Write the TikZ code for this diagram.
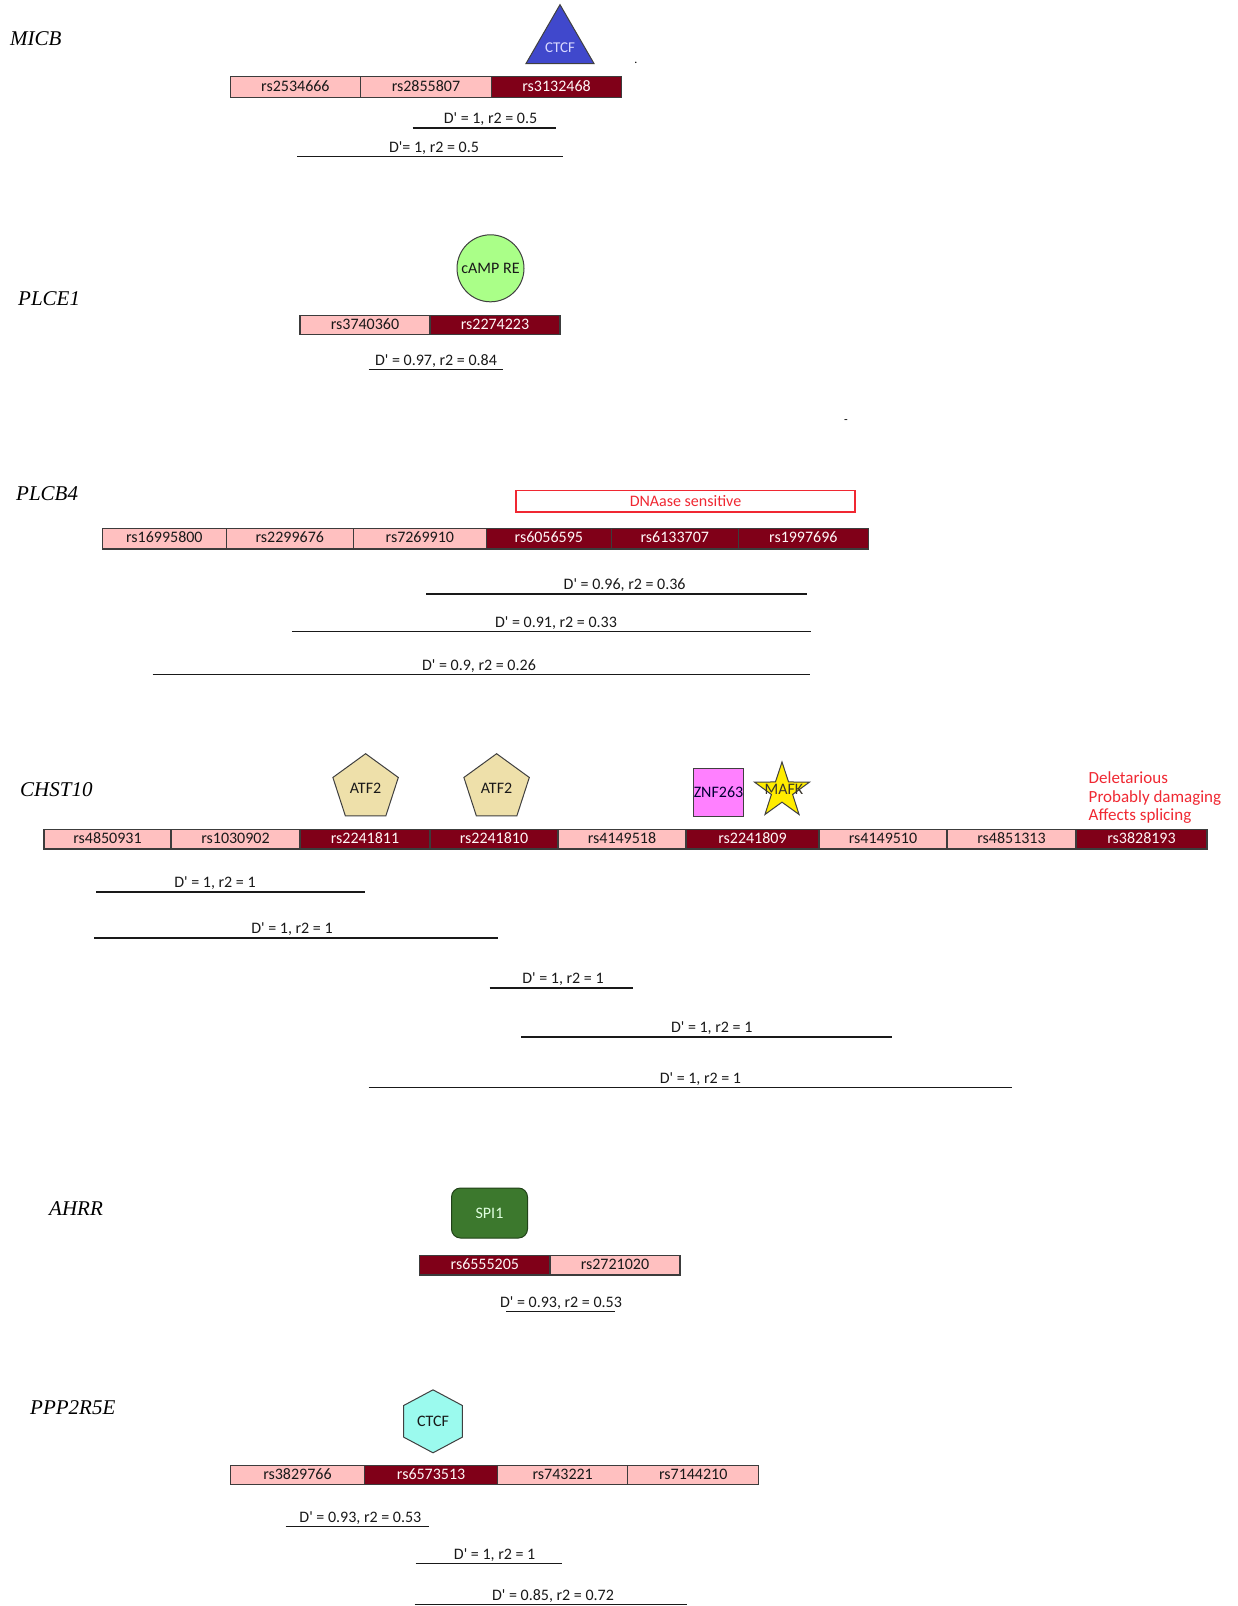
\documentclass[tikz,border=0pt]{standalone}
\usepackage{fontspec}
\setmainfont{Carlito}
\newfontfamily\genefont{Liberation Serif}
\usetikzlibrary{shapes.geometric}
\definecolor{pinkcell}{RGB}{255,192,192}
\definecolor{darkcell}{RGB}{128,0,24}
\definecolor{cellline}{RGB}{60,60,60}
\definecolor{redtxt}{RGB}{240,40,50}
\definecolor{ctcfblue}{RGB}{64,72,204}
\definecolor{camp}{RGB}{170,255,136}
\definecolor{atf}{RGB}{238,224,170}
\definecolor{znf}{RGB}{255,128,255}
\definecolor{mafk}{RGB}{255,236,0}
\definecolor{spi}{RGB}{60,120,45}
\definecolor{hexc}{RGB}{155,250,238}
\newcommand\Dq{D\textquotesingle}
\tikzset{
  every node/.style={font=\fontsize{16}{19}\selectfont},
  cell/.style={draw=cellline, line width=1.2pt, inner sep=0pt, text height=11pt, text depth=3pt},
  lite/.style={fill=pinkcell, text=black!90},
  dark/.style={fill=darkcell, text=white!88!pink},
  ldline/.style={line width=1.3pt, draw=black!90},
  ldtext/.style={anchor=base, text=black!90, inner sep=0pt},
  gene/.style={anchor=base west, inner sep=0pt, font=\genefont\itshape\fontsize{21}{25}\selectfont},
  tfshape/.style={draw=black!75, line width=1pt, inner sep=0pt},
  redline/.style={anchor=base west, inner sep=0pt, text=redtxt, font=\fontsize{17}{20}\selectfont},
}
% #1 name, #2 x1, #3 x2, #4 ytop, #5 ybot, #6 style, #7 text
\newcommand\snp[7]{\node[cell,#6,minimum width={(#3-#2)*1pt},minimum height={(#5-#4)*1pt}] (#1) at ({(#2+#3)/2},{(#4+#5)/2}) {#7};}
% #1 name, #2 x1, #3 x2, #4 y, #5 text x, #6 text
\newcommand\ldpair[6]{\coordinate (#1a) at (#2,#4); \coordinate (#1b) at (#3,#4);
  \draw[ldline] (#1a) -- (#1b);
  \node[ldtext] (#1t) at (#5,#4-4.2) {#6};}
\begin{document}
\begin{tikzpicture}[x=1pt,y=-1pt]
\useasboundingbox (0,0) rectangle (1238,1606);
\fill[white] (0,0) rectangle (1238,1606);

% ---------------- MICB
\node[gene] (gMICB) at (10,45) {MICB};
\node[tfshape, regular polygon, regular polygon sides=3, minimum size=78.5pt, fill=ctcfblue] (ctcfA) at (560,43.9) {};
\node[text=white!85!blue, font=\fontsize{15}{18}\selectfont] (ctcfAt) at (560,48) {CTCF};
\snp{m1}{230.4}{360.4}{76.8}{97.3}{lite}{rs2534666}
\snp{m2}{360.4}{491.5}{76.8}{97.3}{lite}{rs2855807}
\snp{m3}{491.5}{621.6}{76.8}{97.3}{dark}{rs3132468}
\node[anchor=base, inner sep=0pt, font=\fontsize{12}{14}\selectfont] (dotA) at (636,63.5) {.};
\ldpair{ldm1}{412.7}{556}{128}{490.5}{\Dq{} = 1, r2 = 0.5}
\ldpair{ldm2}{297}{563}{156.7}{434}{\Dq{}= 1, r2 = 0.5}

% ---------------- PLCE1
\node[gene] (gPLCE) at (18,305) {PLCE1};
\node[tfshape, circle, minimum size=67pt, fill=camp, text=black!90] (campA) at (490.5,268.3) {cAMP RE};
\snp{p1}{300}{430}{315.4}{334.8}{lite}{rs3740360}
\snp{p2}{430}{560}{315.4}{334.8}{dark}{rs2274223}
\ldpair{ldp1}{368.6}{502.8}{369.7}{436}{\Dq{} = 0.97, r2 = 0.84}
\node[anchor=base, inner sep=0pt, font=\fontsize{12}{14}\selectfont] (dashA) at (846,423) {-};

% ---------------- PLCB4
\node[gene] (gPLCB) at (16,500.3) {PLCB4};
\node[draw=redtxt, line width=1.2pt, fill=white, text=redtxt, inner sep=0pt, minimum width=339pt, minimum height=21.5pt] (dnase) at (685.5,501.3) {DNAase sensitive};
\snp{b1}{102.4}{226.3}{528.4}{548.9}{lite}{rs16995800}
\snp{b2}{226.3}{353.3}{528.4}{548.9}{lite}{rs2299676}
\snp{b3}{353.3}{486.4}{528.4}{548.9}{lite}{rs7269910}
\snp{b4}{486.4}{611.3}{528.4}{548.9}{dark}{rs6056595}
\snp{b5}{611.3}{738.3}{528.4}{548.9}{dark}{rs6133707}
\snp{b6}{738.3}{868.4}{528.4}{548.9}{dark}{rs1997696}
\ldpair{ldb1}{426}{807}{594}{624.6}{\Dq{} = 0.96, r2 = 0.36}
\ldpair{ldb2}{291.8}{811}{631.8}{556}{\Dq{} = 0.91, r2 = 0.33}
\ldpair{ldb3}{152.6}{810}{674.8}{479}{\Dq{} = 0.9, r2 = 0.26}

% ---------------- CHST10
\node[gene] (gCHST) at (20,796) {CHST10};
\node[tfshape, regular polygon, regular polygon sides=5, minimum size=68.8pt, fill=atf, text=black!90] (atfA) at (365.6,788.1) {ATF2};
\node[tfshape, regular polygon, regular polygon sides=5, minimum size=68.8pt, fill=atf, text=black!90] (atfB) at (496.6,788.1) {ATF2};
\node[tfshape, rectangle, minimum width=49pt, minimum height=48pt, fill=znf, text=black!80!blue] (znf) at (718.5,792) {ZNF263};
\node[tfshape, star, star points=5, star point ratio=2.6, minimum size=58pt, fill=mafk] (mafkS) at (782,791) {};
\node[text=black!80!olive] (mafkT) at (784,789.5) {MAFK};
\node[redline] (red1) at (1088.5,783.5) {Deletarious};
\node[redline] (red2) at (1088.5,802) {Probably damaging};
\node[redline] (red3) at (1088.5,820.5) {Affects splicing};
\snp{c1}{44}{171}{829.4}{849}{lite}{rs4850931}
\snp{c2}{171}{300}{829.4}{849}{lite}{rs1030902}
\snp{c3}{300}{430}{829.4}{849}{dark}{rs2241811}
\snp{c4}{430}{558}{829.4}{849}{dark}{rs2241810}
\snp{c5}{558}{686}{829.4}{849}{lite}{rs4149518}
\snp{c6}{686}{819}{829.4}{849}{dark}{rs2241809}
\snp{c7}{819}{947}{829.4}{849}{lite}{rs4149510}
\snp{c8}{947}{1076}{829.4}{849}{lite}{rs4851313}
\snp{c9}{1076}{1207}{829.4}{849}{dark}{rs3828193}
\ldpair{ldc1}{96}{364.5}{892}{215}{\Dq{} = 1, r2 = 1}
\ldpair{ldc2}{94}{497.7}{938}{292}{\Dq{} = 1, r2 = 1}
\ldpair{ldc3}{489.5}{632.8}{988}{563}{\Dq{} = 1, r2 = 1}
\ldpair{ldc4}{521}{892}{1037}{711.7}{\Dq{} = 1, r2 = 1}
\ldpair{ldc5}{368.6}{1011.7}{1087.5}{700.4}{\Dq{} = 1, r2 = 1}

% ---------------- AHRR
\node[gene] (gAHRR) at (49,1215.7) {AHRR};
\node[draw=spi!55!black, line width=1pt, fill=spi, rounded corners=9pt, minimum width=76pt, minimum height=50pt, inner sep=0pt, text=white!88!green] (spi1) at (489.5,1213) {SPI1};
\snp{a1}{419.8}{549.9}{1255.4}{1275}{dark}{rs6555205}
\snp{a2}{549.9}{680}{1255.4}{1275}{lite}{rs2721020}
\ldpair{lda1}{506}{615}{1311.7}{561}{\Dq{} = 0.93, r2 = 0.53}

% ---------------- PPP2R5E
\node[gene] (gPPP) at (30,1414.7) {PPP2R5E};
\node[tfshape, regular polygon, regular polygon sides=6, shape border rotate=30, minimum size=63pt, xscale=1.08, fill=hexc] (ctcfB) at (433,1421.3) {};
\node[text=black!90] (ctcfBt) at (433,1421.3) {CTCF};
\snp{e1}{230.4}{364.5}{1465.3}{1484.8}{lite}{rs3829766}
\snp{e2}{364.5}{497.7}{1465.3}{1484.8}{dark}{rs6573513}
\snp{e3}{497.7}{627.7}{1465.3}{1484.8}{lite}{rs743221}
\snp{e4}{627.7}{758.8}{1465.3}{1484.8}{lite}{rs7144210}
\ldpair{lde1}{285.7}{429}{1526.8}{360.4}{\Dq{} = 0.93, r2 = 0.53}
\ldpair{lde2}{415.7}{562}{1563.7}{494.6}{\Dq{} = 1, r2 = 1}
\ldpair{lde3}{414.7}{687}{1604.3}{553}{\Dq{} = 0.85, r2 = 0.72}
\end{tikzpicture}
\end{document}
